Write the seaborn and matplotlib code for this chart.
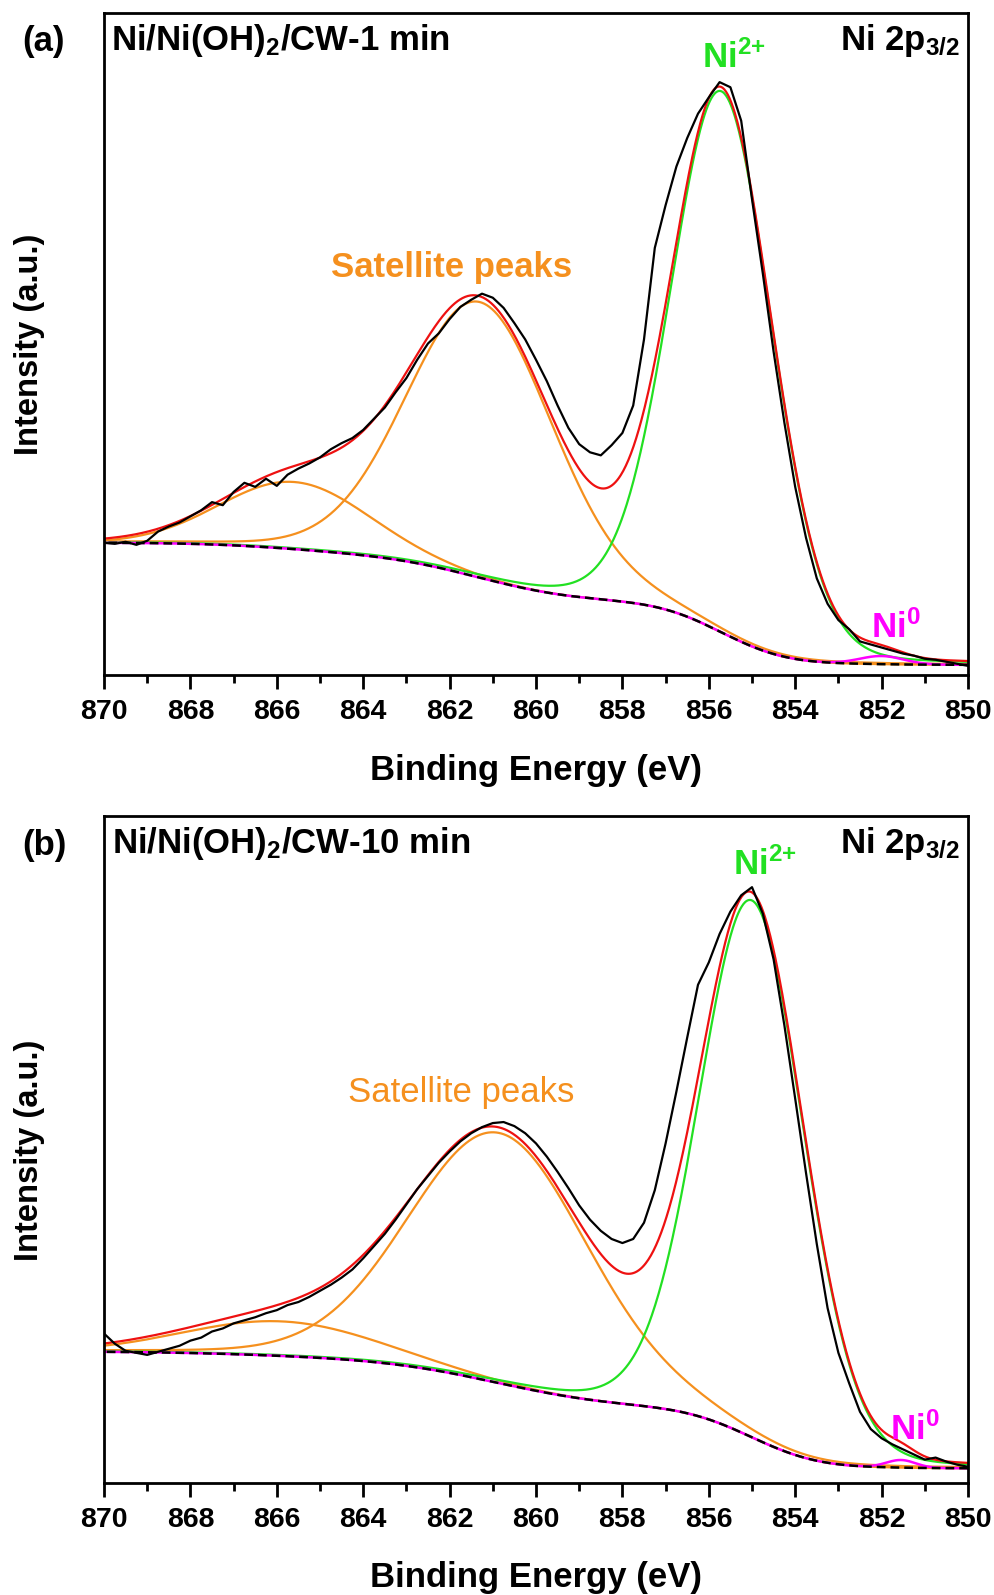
import numpy as np
import matplotlib
matplotlib.use("Agg")
import matplotlib.pyplot as plt
import seaborn as sns
from matplotlib.ticker import MultipleLocator

sns.set_theme(style="ticks")
plt.rcParams['font.family'] = ['Liberation Sans', 'DejaVu Sans']
plt.rcParams['font.weight'] = 'bold'
plt.rcParams['mathtext.default'] = 'regular'
plt.rcParams['text.color'] = 'black'
plt.rcParams['axes.labelcolor'] = 'black'
plt.rcParams['xtick.color'] = 'black'

# raw spectra, 870 -> 850 eV in 0.25 eV steps (arbitrary units)
raw_a = [130, 129, 131, 128, 132, 141, 146, 150, 156, 162,
         170, 167, 180, 189, 185, 193, 186, 197, 203, 208,
         214, 222, 228, 233, 241, 252, 263, 278, 292, 310,
         326, 336, 350, 362, 369, 375, 371, 361, 346, 330,
         310, 289, 265, 243, 227, 219, 216, 226, 238, 265,
         330, 420, 462, 500, 528, 552, 568, 583, 578, 545,
         468, 395, 318, 248, 185, 135, 95, 70, 54, 45,
         33, 30, 27, 24, 21, 19, 16, 15, 13, 11, 9]
raw_b = [147, 137, 130, 128, 126, 129, 132, 135, 140, 143,
         149, 152, 157, 160, 163, 167, 170, 175, 178, 183,
         189, 195, 202, 210, 221, 233, 245, 259, 274, 289,
         302, 315, 326, 336, 344, 350, 354, 355, 351, 344,
         334, 321, 306, 290, 273, 259, 248, 240, 236, 240,
         256, 288, 334, 385, 438, 490, 512, 540, 562, 578,
         586, 560, 515, 450, 378, 305, 235, 172, 128, 98,
         70, 53, 44, 38, 33, 28, 23, 25, 21, 18, 16]

# fitted components: Ni0, Ni2+, satellite 1, satellite 2
names = ["Ni0", "Ni2+", "Sat1", "Sat2"]
center_a = [852.0, 855.7, 861.3, 865.6]
height_a = [8, 532, 271, 66]
fwhm_a = [1.2, 2.75, 4.0, 4.0]
center_b = [851.55, 855.0, 860.85, 865.9]
height_b = [7.5, 528, 246, 34]
fwhm_b = [0.8, 2.85, 4.9, 5.2]
lor_frac = [0.0, 0.1, 0.1, 0.0]
bg_ends_a = (10, 130)   # Shirley background at 850 / 870 eV
bg_ends_b = (14.5, 129)

GREEN = "#22e022"
ORANGE = "#f5901e"
MAGENTA = "#ff00ff"
RED = "#ee1111"
comp_colors = [MAGENTA, GREEN, ORANGE, ORANGE]


def pv(E, c, h, w, eta):
    g = np.exp(-4 * np.log(2) * (E - c) ** 2 / w ** 2)
    l = 1.0 / (1 + 4 * (E - c) ** 2 / w ** 2)
    return h * ((1 - eta) * g + eta * l)


fig = plt.figure(figsize=(9.95, 15.95), dpi=100)


def ft(x, y, s, **kw):
    return fig.text(x / 995, 1 - y / 1595, s, **kw)


def panel(ax, raw, centers, heights, fwhms, bg_ends, ytop):
    E = np.linspace(850, 870, 1001)
    comps = [pv(E, c, h, w, e) for c, h, w, e in zip(centers, heights, fwhms, lor_frac)]
    total = np.sum(comps, axis=0)
    cum = np.concatenate([[0], np.cumsum((total[1:] + total[:-1]) / 2 * np.diff(E))])
    bg = bg_ends[0] + (bg_ends[1] - bg_ends[0]) * cum / cum[-1]

    for i in (2, 3, 1):
        sns.lineplot(x=E, y=bg + comps[i], color=comp_colors[i], lw=1.6, ax=ax, errorbar=None)
    sns.lineplot(x=E, y=bg + comps[0], color=comp_colors[0], lw=1.8, ax=ax, errorbar=None)
    sns.lineplot(x=E, y=bg, color="black", lw=1.8, ax=ax, errorbar=None, linestyle=(0, (3.5, 2)))
    sns.lineplot(x=E, y=bg + total, color=RED, lw=1.6, ax=ax, errorbar=None)
    Er = np.linspace(870, 850, len(raw))
    sns.lineplot(x=Er, y=raw, color="black", lw=1.6, ax=ax, errorbar=None)

    ax.set_xlim(870, 850)
    ax.set_ylim(0, ytop)
    ax.set_yticks([])
    ax.set_xticks(np.arange(850, 871, 2))
    ax.xaxis.set_minor_locator(MultipleLocator(1))
    ax.tick_params(axis="x", which="major", length=10, width=2, direction="out",
                   labelsize=20.5, pad=7, color="black", labelcolor="black")
    ax.tick_params(axis="x", which="minor", length=6, width=2, direction="out", color="black")
    ax.set_xlabel("")
    ax.set_ylabel("")
    for sp in ax.spines.values():
        sp.set_visible(True)
        sp.set_linewidth(2)
        sp.set_color("black")


ax_a = fig.add_axes([104 / 995, 1 - 675 / 1595, 864 / 995, 662 / 1595])
ax_b = fig.add_axes([104 / 995, 1 - 1483 / 1595, 864 / 995, 667 / 1595])
panel(ax_a, raw_a, center_a, height_a, fwhm_a, bg_ends_a, 651)
panel(ax_b, raw_b, center_b, height_b, fwhm_b, bg_ends_b, 656)

FS = 25
# panel (a) texts
ft(44, 51, "(a)", ha="center", va="baseline", fontsize=FS)
ft(111, 50, "Ni/Ni(OH)$_2$/CW-1 min", ha="left", va="baseline", fontsize=FS)
ft(960, 50, "Ni 2p$_{3/2}$", ha="right", va="baseline", fontsize=FS)
ft(734, 68, "Ni$^{2{+}}$", ha="center", va="baseline", fontsize=FS, color=GREEN)
ft(452, 277, "Satellite peaks", ha="center", va="baseline", fontsize=FS, color=ORANGE)
ft(896, 638, "Ni$^0$", ha="center", va="baseline", fontsize=FS, color=MAGENTA)
ft(536, 770, "Binding Energy (eV)", ha="center", va="center", fontsize=FS)
ft(30, 344, "Intensity (a.u.)", ha="center", va="center", rotation=90, fontsize=23.5)

# panel (b) texts
ft(44, 855, "(b)", ha="center", va="baseline", fontsize=FS)
ft(112, 853, "Ni/Ni(OH)$_2$/CW-10 min", ha="left", va="baseline", fontsize=FS)
ft(960, 853, "Ni 2p$_{3/2}$", ha="right", va="baseline", fontsize=FS)
ft(765, 875, "Ni$^{2{+}}$", ha="center", va="baseline", fontsize=FS, color=GREEN)
ft(461, 1102, "Satellite peaks", ha="center", va="baseline", fontsize=FS,
   color=ORANGE, fontweight="normal")
ft(915, 1440, "Ni$^0$", ha="center", va="baseline", fontsize=FS, color=MAGENTA)
ft(536, 1577, "Binding Energy (eV)", ha="center", va="center", fontsize=FS)
ft(30, 1150, "Intensity (a.u.)", ha="center", va="center", rotation=90, fontsize=23.5)

fig.savefig("out.png", dpi=100, facecolor="white")
